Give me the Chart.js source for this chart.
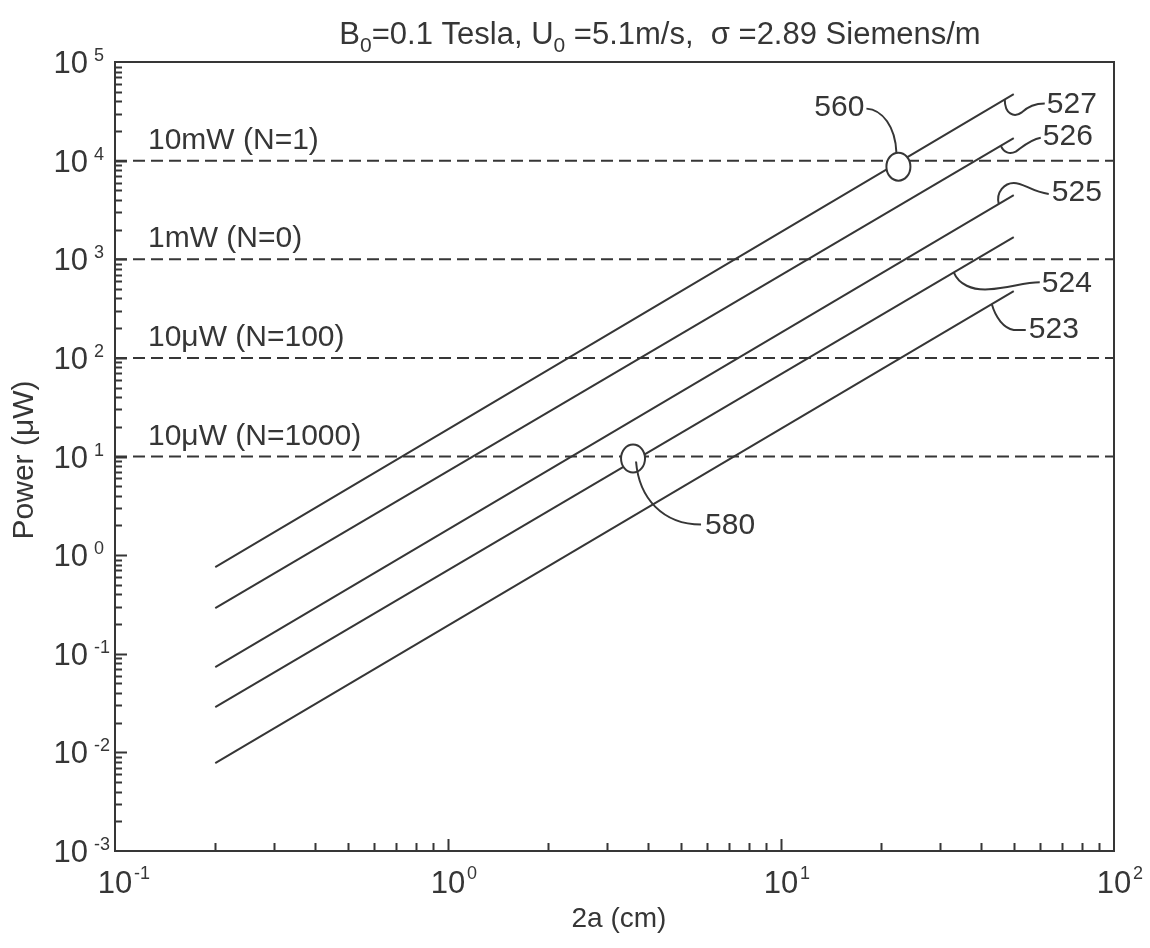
<!DOCTYPE html>
<html>
<head>
<meta charset="utf-8">
<script src="https://cdn.jsdelivr.net/npm/chart.js@4.4.0/dist/chart.umd.min.js"></script>
<style>
  html, body { margin: 0; padding: 0; background: #fff; }
</style>
</head>
<body>
<canvas id="powerChart" width="1150" height="948"></canvas>
<script>
// values: 2a in cm, power in microwatts
const diameters = [0.2, 50];
const power523 = [0.0078, 476];
const power524 = [0.0287, 1680];
const power525 = [0.073, 4480];
const power526 = [0.29, 16950];
const power527 = [0.755, 47300];
const seriesNames = ['523', '524', '525', '526', '527'];

// horizontal reference levels
const levelValues = [1e4, 1e3, 1e2, 1e1];
const levelLabels = ['10mW (N=1)', '1mW (N=0)', '10\u03bcW (N=100)', '10\u03bcW (N=1000)'];

// axes
const xRange = [0.1, 100];
const yRange = [0.001, 100000];
const xTickExps = [-1, 0, 1, 2];
const yTickExps = [-3, -2, -1, 0, 1, 2, 3, 4, 5];

const FONT = '"Liberation Sans", Arial, sans-serif';
const INK = '#363636';

const seriesValues = [power523, power524, power525, power526, power527];

// line datasets built from the arrays
var datasets = seriesValues.map(function(vals, i) {
  return {
    label: seriesNames[i],
    data: diameters.map(function(d, j) { return {x: d, y: vals[j]}; }),
    borderColor: INK,
    borderWidth: 2,
    pointRadius: 0,
    tension: 0
  };
});
levelValues.forEach(function(v, i) {
  datasets.push({
    label: levelLabels[i],
    data: xRange.map(function(x) { return {x: x, y: v}; }),
    borderColor: INK,
    borderWidth: 2,
    borderDash: [12, 6],
    pointRadius: 0
  });
});

// callouts: series index, start offset along the line (px), bezier path relative to start, text spot
const callouts = [
  {text: '527', s: 4, dx: -9,  path: [[0,14],[9,19],[17,13],[23,7],[30,4],[40,4]], tx: 42, ty: 5},
  {text: '526', s: 3, dx: -13, path: [[3,7],[9,9],[15,6],[22,1],[29,-6],[40,-8]], tx: 42, ty: -9},
  {text: '525', s: 2, dx: -15, path: [[-3,-12],[6,-21],[15,-21],[25,-21],[33,-12],[50,-10]], tx: 53, ty: -11},
  {text: '524', s: 1, dx: -60, path: [[5,12],[18,18],[35,17],[55,16],[70,10],[86,10]], tx: 88, ty: 11},
  {text: '523', s: 0, dx: -22, path: [[4,14],[12,24],[22,26],[26,26],[29,26],[34,26]], tx: 37, ty: 26}
];
// circled crossings: series index, the level it crosses, small nudge of the ring
const rings = [
  {text: '560', s: 4, level: 1e4, nx: -3, ny: 6},
  {text: '580', s: 1, level: 1e1, nx: -8, ny: 2}
];

function linePixels(chart, s) {
  var xs = chart.scales.x, ys = chart.scales.y;
  var v = seriesValues[s];
  return [
    {x: xs.getPixelForValue(diameters[0]), y: ys.getPixelForValue(v[0])},
    {x: xs.getPixelForValue(diameters[1]), y: ys.getPixelForValue(v[1])}
  ];
}

function drawPow(ctx, exp, x, y, mode) {
  ctx.fillStyle = INK;
  ctx.textBaseline = 'alphabetic';
  ctx.font = '31px ' + FONT;
  if (mode === 'y') {
    ctx.textAlign = 'right';
    ctx.fillText('10', x - 26, y + 11);
    ctx.font = '18px ' + FONT;
    ctx.textAlign = 'left';
    ctx.fillText(String(exp), x - 20, y - 1);
  } else {
    ctx.textAlign = 'center';
    ctx.fillText('10', x, y + 42);
    ctx.font = '18px ' + FONT;
    ctx.textAlign = 'left';
    ctx.fillText(String(exp), x + 19, y + 28);
  }
}

const figurePlugin = {
  id: 'figure',
  afterDatasetsDraw: function(chart) {
    var ctx = chart.ctx, ys = chart.scales.y;
    ctx.save();
    ctx.strokeStyle = INK;
    ctx.lineWidth = 2;
    rings.forEach(function(r) {
      var p = linePixels(chart, r.s);
      var cy = ys.getPixelForValue(r.level);
      var cx = p[0].x + (cy - p[0].y) * (p[1].x - p[0].x) / (p[1].y - p[0].y);
      r.cx = cx + r.nx; r.cy = cy + r.ny;
      ctx.beginPath();
      ctx.ellipse(r.cx, r.cy, 12, 14, 0, 0, Math.PI * 2);
      ctx.fillStyle = '#fff';
      ctx.fill();
      ctx.stroke();
    });
    ctx.restore();
  },
  afterDraw: function(chart) {
    var ctx = chart.ctx, a = chart.chartArea;
    var xs = chart.scales.x, ys = chart.scales.y;
    ctx.save();
    ctx.strokeStyle = INK;
    ctx.fillStyle = INK;
    ctx.lineWidth = 2;

    // frame
    ctx.strokeRect(a.left, a.top, a.right - a.left, a.bottom - a.top);

    // inward ticks on the left and bottom axes
    ctx.beginPath();
    for (var e = -3; e < 5; e++) {
      for (var k = 1; k <= 9; k++) {
        if (k === 1 && e === -3) continue;
        var py = Math.round(ys.getPixelForValue(k * Math.pow(10, e))) + 0.5;
        var len = k === 1 ? 12 : 7;
        ctx.moveTo(a.left, py);
        ctx.lineTo(a.left + len, py);
      }
    }
    for (var e2 = -1; e2 < 2; e2++) {
      for (var k2 = 1; k2 <= 9; k2++) {
        if (k2 === 1 && e2 === -1) continue;
        var px = Math.round(xs.getPixelForValue(k2 * Math.pow(10, e2))) + 0.5;
        var len2 = k2 === 1 ? 12 : 8;
        ctx.moveTo(px, a.bottom);
        ctx.lineTo(px, a.bottom - len2);
      }
    }
    ctx.stroke();

    // tick labels
    yTickExps.forEach(function(e) {
      drawPow(ctx, e, 114, ys.getPixelForValue(Math.pow(10, e)), 'y');
    });
    xTickExps.forEach(function(e) {
      drawPow(ctx, e, xs.getPixelForValue(Math.pow(10, e)), a.bottom, 'x');
    });

    // axis titles
    ctx.font = '28px ' + FONT;
    ctx.textAlign = 'center';
    ctx.textBaseline = 'middle';
    ctx.fillText('2a (cm)', 619, 919);
    ctx.save();
    ctx.translate(25, 460);
    ctx.rotate(-Math.PI / 2);
    ctx.font = '30px ' + FONT;
    ctx.fillText('Power (\u03bcW)', 0, 0);
    ctx.restore();

    // title with subscripts
    var parts = [['B', 0], ['0', 1], ['=0.1 Tesla, U', 0], ['0', 1], [' =5.1m/s,  \u03c3 =2.89 Siemens/m', 0]];
    var total = 0;
    parts.forEach(function(p) {
      ctx.font = (p[1] ? '21px ' : '31px ') + FONT;
      total += ctx.measureText(p[0]).width;
    });
    var tx = 660 - total / 2;
    ctx.textAlign = 'left';
    ctx.textBaseline = 'alphabetic';
    parts.forEach(function(p) {
      ctx.font = (p[1] ? '21px ' : '31px ') + FONT;
      ctx.fillText(p[0], tx, p[1] ? 52 : 44);
      tx += ctx.measureText(p[0]).width;
    });

    // level labels
    ctx.font = '30px ' + FONT;
    levelValues.forEach(function(v, i) {
      ctx.fillText(levelLabels[i], a.left + 33, ys.getPixelForValue(v) - 12);
    });

    // callouts at the line ends
    ctx.textBaseline = 'middle';
    ctx.font = '30px ' + FONT;
    callouts.forEach(function(c) {
      var p = linePixels(chart, c.s);
      var sx = p[1].x + c.dx;
      var sy = p[0].y + (sx - p[0].x) * (p[1].y - p[0].y) / (p[1].x - p[0].x);
      var q = c.path;
      ctx.beginPath();
      ctx.moveTo(sx, sy);
      ctx.bezierCurveTo(sx + q[0][0], sy + q[0][1], sx + q[1][0], sy + q[1][1], sx + q[2][0], sy + q[2][1]);
      ctx.bezierCurveTo(sx + q[3][0], sy + q[3][1], sx + q[4][0], sy + q[4][1], sx + q[5][0], sy + q[5][1]);
      ctx.stroke();
      ctx.fillText(c.text, sx + c.tx, sy + c.ty);
    });

    // ring callouts
    var r0 = rings[0], r1 = rings[1];
    ctx.beginPath();
    ctx.moveTo(r0.cx - 2, r0.cy - 14);
    ctx.bezierCurveTo(r0.cx - 3, r0.cy - 40, r0.cx - 16, r0.cy - 57, r0.cx - 32, r0.cy - 58);
    ctx.stroke();
    ctx.textAlign = 'right';
    ctx.fillText(r0.text, r0.cx - 34, r0.cy - 59);
    ctx.beginPath();
    ctx.moveTo(r1.cx + 3, r1.cy + 3);
    ctx.bezierCurveTo(r1.cx + 6, r1.cy + 40, r1.cx + 30, r1.cy + 66, r1.cx + 68, r1.cy + 66);
    ctx.stroke();
    ctx.textAlign = 'left';
    ctx.fillText(r1.text, r1.cx + 72, r1.cy + 67);

    ctx.restore();
  }
};

new Chart(document.getElementById('powerChart').getContext('2d'), {
  type: 'line',
  data: { datasets: datasets },
  options: {
    responsive: false,
    animation: false,
    layout: { padding: { left: 115, right: 36, top: 62, bottom: 97 } },
    plugins: { legend: { display: false }, tooltip: { enabled: false } },
    scales: {
      x: { type: 'logarithmic', min: xRange[0], max: xRange[1], display: false },
      y: { type: 'logarithmic', min: yRange[0], max: yRange[1], display: false }
    }
  },
  plugins: [figurePlugin]
});
</script>
</body>
</html>
